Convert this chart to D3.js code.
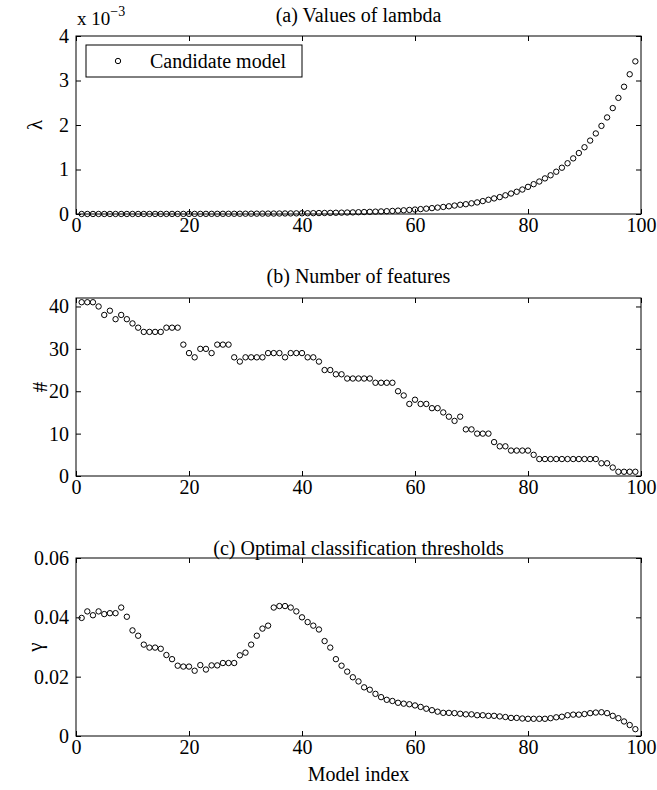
<!DOCTYPE html>
<html><head><meta charset="utf-8">
<script src="https://cdn.jsdelivr.net/npm/d3@7/dist/d3.min.js"></script>
<style>
body{margin:0;background:#fff;}
svg{display:block;}
text{font-family:"Liberation Serif","Times New Roman",Times,serif;fill:#000;}
</style></head>
<body><svg id="c" width="657" height="790"></svg>
<script>
// Model index 1..99
const modelIndex = d3.range(1, 100);

// (a) lambda values, in units of 1e-3
const lambdaVals = [
0.0004,0.0005,0.0005,0.0006,0.0006,0.0007,0.0008,0.0008,0.0009,0.0010,
0.0011,0.0012,0.0013,0.0015,0.0016,0.0018,0.0019,0.0021,0.0023,0.0025,
0.0028,0.0030,0.0033,0.0037,0.0040,0.0044,0.0048,0.0053,0.0058,0.0064,
0.0070,0.0076,0.0084,0.0092,0.010,0.011,0.012,0.013,0.014,0.016,
0.017,0.019,0.021,0.023,0.025,0.028,0.030,0.033,0.036,0.040,
0.044,0.048,0.053,0.058,0.063,0.069,0.076,0.083,0.091,0.100,
0.110,0.120,0.132,0.144,0.158,0.173,0.190,0.208,0.220,0.240,
0.26,0.29,0.32,0.35,0.38,0.42,0.46,0.50,0.55,0.61,
0.67,0.73,0.80,0.87,0.95,1.04,1.14,1.25,1.37,1.50,
1.65,1.81,1.98,2.17,2.38,2.61,2.86,3.14,3.43];

// (b) number of features
const featureCounts = [
41,41,41,40,38,39,37,38,37,36,
35,34,34,34,34,35,35,35,31,29,
28,30,30,29,31,31,31,28,27,28,
28,28,28,29,29,29,28,29,29,29,
28,28,27,25,25,24,24,23,23,23,
23,23,22,22,22,22,20,19,17,18,
17,17,16,16,15,14,13,14,11,11,
10,10,10,8,7,7,6,6,6,6,
5,4,4,4,4,4,4,4,4,4,
4,4,3,3,2,1,1,1,1];

// (c) optimal classification thresholds
const gammaVals = [
0.0398,0.0420,0.0407,0.0420,0.0411,0.0414,0.0414,0.0433,0.0402,0.0356,
0.0338,0.0308,0.0298,0.0298,0.0294,0.0273,0.0259,0.0237,0.0234,0.0234,
0.0220,0.0239,0.0224,0.0238,0.0238,0.0246,0.0246,0.0246,0.0272,0.0281,
0.0308,0.0338,0.0362,0.0372,0.0433,0.0438,0.0438,0.0433,0.0420,0.0400,
0.0384,0.0372,0.0359,0.0320,0.0298,0.0259,0.0237,0.0217,0.0198,0.0184,
0.0164,0.0156,0.0142,0.0131,0.0122,0.0118,0.0112,0.0109,0.0107,0.0103,
0.0098,0.0092,0.0087,0.0082,0.0078,0.0078,0.0077,0.0075,0.0073,0.0073,
0.0070,0.0070,0.0068,0.0068,0.0066,0.0064,0.0061,0.0061,0.0059,0.0058,
0.0058,0.0058,0.0058,0.0060,0.0063,0.0065,0.0070,0.0072,0.0072,0.0074,
0.0077,0.0079,0.0080,0.0077,0.0068,0.0060,0.0049,0.0037,0.0023];

const xTicks = [0,20,40,60,80,100];
const lambdaTicks = [0,1,2,3,4];
const featureTicks = [0,10,20,30,40];
const gammaTicks = [0,0.02,0.04,0.06];
const titles = ["(a) Values of lambda","(b) Number of features","(c) Optimal classification thresholds"];
const yLabels = ["\u03BB","#","\u03B3"];
const legendLabel = "Candidate model";
const xLabel = "Model index";

const FONT = "'Liberation Serif','Times New Roman',Times,serif";
const svg = d3.select("#c");
const L = 76, R = 641;
const x = d3.scaleLinear().domain([0,100]).range([L,R]);

const panels = [
  {top:36, bottom:214, domain:[0,4], ticks:lambdaTicks, fmt:d=>String(d), data:lambdaVals, title:titles[0], titleY:22, ylab:yLabels[0], ylabX:42},
  {top:298, bottom:476, domain:[0,42], ticks:featureTicks, fmt:d=>String(d), data:featureCounts, title:titles[1], titleY:283, ylab:yLabels[1], ylabX:47},
  {top:558, bottom:736, domain:[0,0.06], ticks:gammaTicks, fmt:d=>d===0?"0":d3.format(".2f")(d), data:gammaVals, title:titles[2], titleY:555, ylab:yLabels[2], ylabX:42}
];

panels.forEach((p,pi)=>{
  const y = d3.scaleLinear().domain(p.domain).range([p.bottom,p.top]);
  const g = svg.append("g");
  const gb = g.append("g").attr("transform",`translate(0,${p.bottom})`)
    .call(d3.axisBottom(x).tickValues(xTicks).tickSizeInner(-5).tickSizeOuter(0).tickPadding(4));
  const gt = g.append("g").attr("transform",`translate(0,${p.top})`)
    .call(d3.axisTop(x).tickValues(xTicks).tickSizeInner(-5).tickSizeOuter(0).tickFormat(""));
  const gl = g.append("g").attr("transform",`translate(${L},0)`)
    .call(d3.axisLeft(y).tickValues(p.ticks).tickSizeInner(-5).tickSizeOuter(0).tickPadding(7).tickFormat(p.fmt));
  const gr = g.append("g").attr("transform",`translate(${R},0)`)
    .call(d3.axisRight(y).tickValues(p.ticks).tickSizeInner(-5).tickSizeOuter(0).tickFormat(""));
  [gb,gt,gl,gr].forEach(a=>{
    a.attr("font-family",null).attr("font-size",null);
    a.select(".domain").remove();
    a.selectAll("line").attr("stroke","#000");
    a.selectAll("text").style("font-size","20px").style("font-family",FONT);
  });
  g.append("rect").attr("x",L).attr("y",p.top).attr("width",R-L).attr("height",p.bottom-p.top)
    .attr("fill","none").attr("stroke","#000").attr("stroke-width",1);
  g.append("g").selectAll("circle").data(p.data).join("circle")
    .attr("cx",(d,i)=>x(modelIndex[i])).attr("cy",d=>y(d)).attr("r",2.7)
    .attr("fill","none").attr("stroke","#000").attr("stroke-width",1);
  g.append("text").attr("x",(L+R)/2).attr("y",p.titleY).attr("text-anchor","middle")
    .style("font-size","20px").text(p.title);
  g.append("text").attr("transform",`translate(${p.ylabX},${(p.top+p.bottom)/2}) rotate(-90)`)
    .attr("text-anchor","middle").style("font-size","21px").text(p.ylab);
});

// exponent label for panel (a)
const ex = svg.append("text").attr("x",77).attr("y",25).style("font-size","19px");
ex.append("tspan").text("x 10");
ex.append("tspan").attr("dy",-9).style("font-size","14px").text("\u22123");

// legend
svg.append("rect").attr("x",86).attr("y",45).attr("width",216).attr("height",32)
  .attr("fill","#fff").attr("stroke","#000");
svg.append("circle").attr("cx",118).attr("cy",61).attr("r",2.7).attr("fill","none").attr("stroke","#000");
svg.append("text").attr("x",150).attr("y",68).style("font-size","20px").text(legendLabel);

// x label
svg.append("text").attr("x",(L+R)/2).attr("y",781).attr("text-anchor","middle")
  .style("font-size","20px").text(xLabel);
</script></body></html>
